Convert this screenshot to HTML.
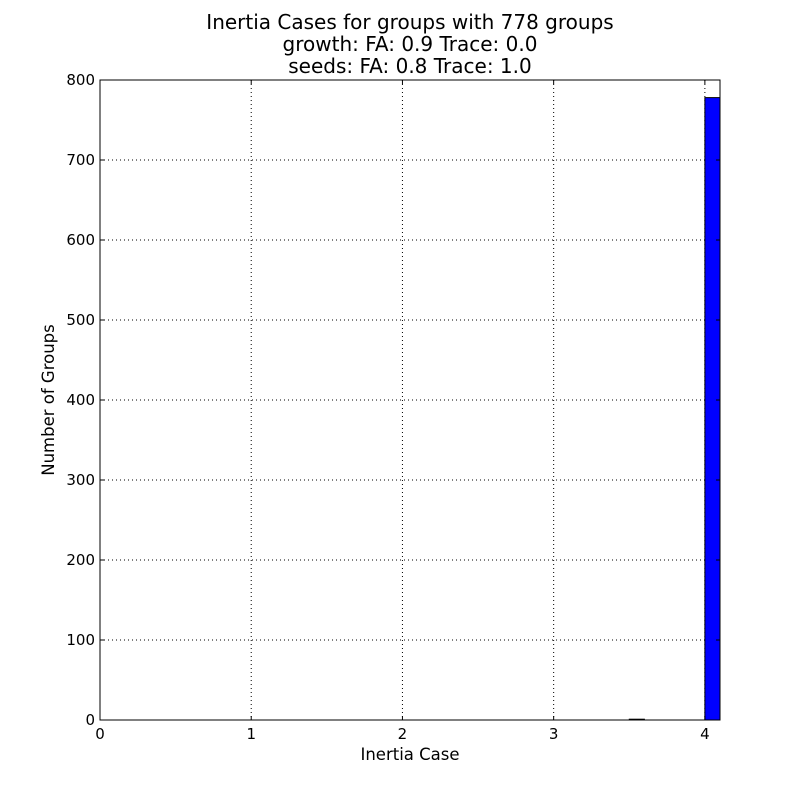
<!DOCTYPE html>
<html><head><meta charset="utf-8"><style>
body{margin:0;background:#fff;}
svg text{font-family:"DejaVu Sans","Liberation Sans",sans-serif;}
</style></head><body>
<svg id="chart" width="800" height="800">
<rect width="800" height="800" fill="#fff"/>
<g font-size="20" text-anchor="middle">
<text x="410" y="29">Inertia Cases for groups with 778 groups</text>
<text x="410" y="51">growth: FA: 0.9 Trace: 0.0</text>
<text x="410" y="73">seeds: FA: 0.8 Trace: 1.0</text>
</g>
<g id="grid"></g>
<g id="bars"></g>
<rect x="100" y="80" width="620" height="640" fill="none" stroke="#000" stroke-width="1"/>
<g id="ticks"></g>
<text x="410" y="760" font-size="16.5" text-anchor="middle">Inertia Case</text>
<text transform="translate(54,400) rotate(-90)" font-size="16.5" text-anchor="middle">Number of Groups</text>
</svg>
<script>
const binStarts=[3.5,4.0];
const binCounts=[1,778];
const binWidth=0.1;
const xTicks=[0,1,2,3,4];
const yTicks=[0,100,200,300,400,500,600,700,800];
const X0=100,X1=720,Y0=720,Y1=80,xMax=4.1,yMax=800;
const sx=v=>X0+v/xMax*(X1-X0);
const sy=v=>Y0-v/yMax*(Y0-Y1);
const NS="http://www.w3.org/2000/svg";
const grid=document.getElementById('grid'),bars=document.getElementById('bars'),ticks=document.getElementById('ticks');
function mk(t,a,p){const e=document.createElementNS(NS,t);for(const k in a)e.setAttribute(k,a[k]);p.appendChild(e);return e;}
xTicks.forEach(v=>{
 const x=sx(v);
 const g=mk('line',{x1:x,x2:x,y1:Y1,y2:Y0,stroke:'#000','stroke-dasharray':'1,3','stroke-width':1},grid);
 
 
 mk('line',{x1:x,x2:x,y1:Y0,y2:Y0-4,stroke:'#000'},ticks);
 mk('line',{x1:x,x2:x,y1:Y1,y2:Y1+4,stroke:'#000'},ticks);
 const t=mk('text',{x:x,y:Y0+19,'font-size':15,'text-anchor':'middle'},ticks);
 t.textContent=v;
 
 
});
yTicks.forEach(v=>{
 const y=sy(v);
 const g=mk('line',{x1:X0,x2:X1,y1:y,y2:y,stroke:'#000','stroke-dasharray':'1,3','stroke-width':1},grid);
 
 
 mk('line',{x1:X0,x2:X0+4,y1:y,y2:y,stroke:'#000'},ticks);
 mk('line',{x1:X1,x2:X1-4,y1:y,y2:y,stroke:'#000'},ticks);
 const t=mk('text',{x:X0-5,y:y+5,'font-size':15,'text-anchor':'end'},ticks);
 t.textContent=v;
 
 
});
binStarts.forEach((b,i)=>{
 const x=sx(b),w=sx(b+binWidth)-x,y=sy(binCounts[i]);
 const r=mk('rect',{x:x,y:y,width:w,height:Y0-y,fill:'#0000ff',stroke:'#000','stroke-width':1},bars);
 
 
});
</script>
</body></html>
